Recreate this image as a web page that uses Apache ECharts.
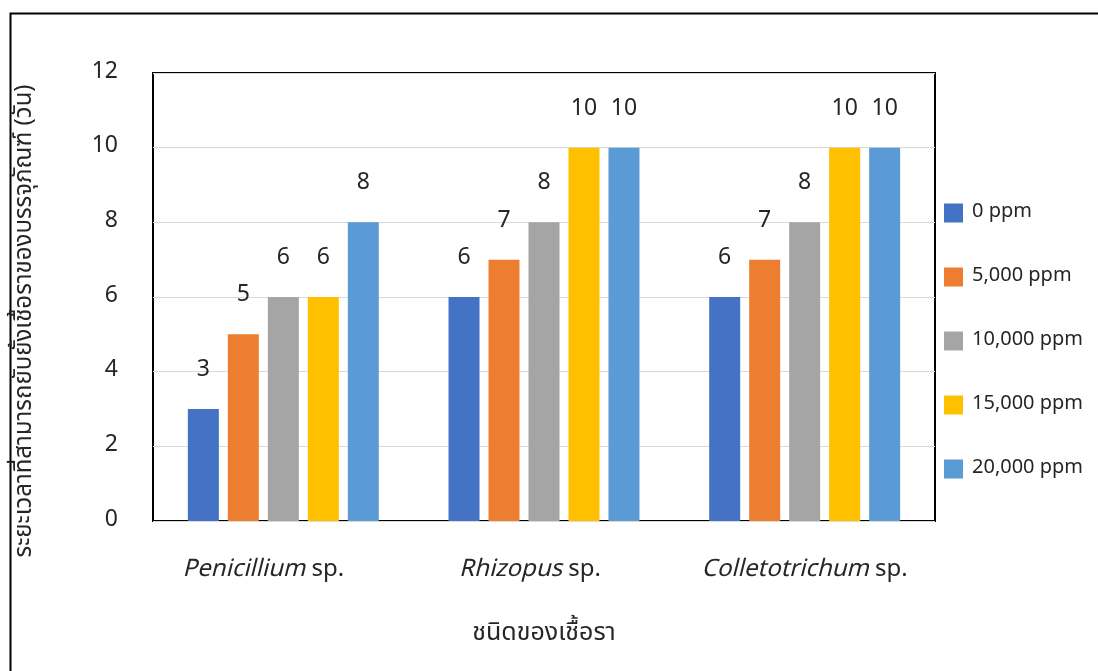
<!DOCTYPE html>
<html>
<head>
<meta charset="utf-8">
<script src="https://cdn.jsdelivr.net/npm/echarts@6/dist/echarts.min.js"></script>
<style>
  html, body { margin: 0; padding: 0; background: #fff; }
  #chart { width: 1098px; height: 671px; }
</style>
</head>
<body>
<div id="chart"></div>
<script>
// Fungus species (genus in italics, followed by "sp.")
const genera = ['Penicillium', 'Rhizopus', 'Colletotrichum'];
// Concentration levels of the treatment
const levels = ['0 ppm', '5,000 ppm', '10,000 ppm', '15,000 ppm', '20,000 ppm'];
// Days of mould inhibition on packaging, per concentration
const ppm0     = [3, 6, 6];
const ppm5000  = [5, 7, 7];
const ppm10000 = [6, 8, 8];
const ppm15000 = [6, 10, 10];
const ppm20000 = [8, 10, 10];
const yTicks = [0, 2, 4, 6, 8, 10, 12];

const seriesValues = [ppm0, ppm5000, ppm10000, ppm15000, ppm20000];
const colors = ['#4472C4', '#ED7D31', '#A5A5A5', '#FFC000', '#5B9BD5'];
// trailing space after each category label (px), as typed in the workbook
const labelTrail = [40, 28, 0];

const FONT = '"Noto Sans Thai", "Noto Sans", "Open Sans", sans-serif';
const TEXT = '#262626';

const chart = echarts.init(document.getElementById('chart'), null, { renderer: 'canvas' });

chart.setOption({
  animation: false,
  backgroundColor: '#fff',
  textStyle: { fontFamily: FONT },
  grid: {
    left: 153, right: 163, top: 73, bottom: 150,
    show: true, borderColor: '#000', borderWidth: 2, backgroundColor: 'transparent'
  },
  legend: {
    orient: 'vertical',
    left: 944, top: 203, padding: 0,
    itemWidth: 19, itemHeight: 19, itemGap: 44,
    icon: 'rect',
    textStyle: { fontSize: 20, color: TEXT, fontFamily: FONT, padding: [0, 0, 0, 4] },
    data: levels
  },
  xAxis: {
    type: 'category',
    data: genera,
    axisTick: { show: false },
    axisLine: { show: false },
    axisLabel: {
      interval: 0,
      margin: 38,
      fontSize: 24,
      color: TEXT,
      formatter: (v, idx) => '{i|' + v + '} sp.{t' + idx + '|}',
      rich: {
        i: { fontStyle: 'italic', fontSize: 24, color: TEXT, fontFamily: FONT },
        t0: { width: labelTrail[0] },
        t1: { width: labelTrail[1] },
        t2: { width: labelTrail[2] }
      }
    },
    name: 'ชนิดของเชื้อรา',
    nameLocation: 'middle',
    nameGap: 101,
    nameTextStyle: { fontSize: 25, color: TEXT, fontFamily: FONT }
  },
  yAxis: {
    type: 'value',
    min: yTicks[0], max: yTicks[yTicks.length - 1], interval: 2,
    axisLine: { show: false },
    axisTick: { show: false },
    axisLabel: { margin: 35, fontSize: 23, color: TEXT },
    splitLine: { lineStyle: { color: '#D9D9D9', width: 1 } }
  },
  graphic: [
    {
      type: 'rect', left: 8, top: 11,
      shape: { width: 1200, height: 800 },
      style: { fill: 'none', stroke: '#000', lineWidth: 2 },
      silent: true
    },
    {
      type: 'text', x: 26, y: 321, rotation: Math.PI / 2,
      style: {
        text: 'ระยะเวลาที่สามารถยับยั้งเชื้อราของบรรจุภัณฑ์ (วัน)',
        fontSize: 24, fill: TEXT, fontFamily: FONT,
        align: 'center', verticalAlign: 'middle'
      }
    }
  ],
  series: seriesValues.map((vals, i) => ({
    name: levels[i],
    type: 'bar',
    data: vals,
    barWidth: 31,
    barGap: '29%',
    itemStyle: { color: colors[i] },
    label: {
      show: true, position: 'top', distance: 26,
      fontSize: 23, color: TEXT, fontFamily: FONT
    }
  }))
});
</script>
</body>
</html>
